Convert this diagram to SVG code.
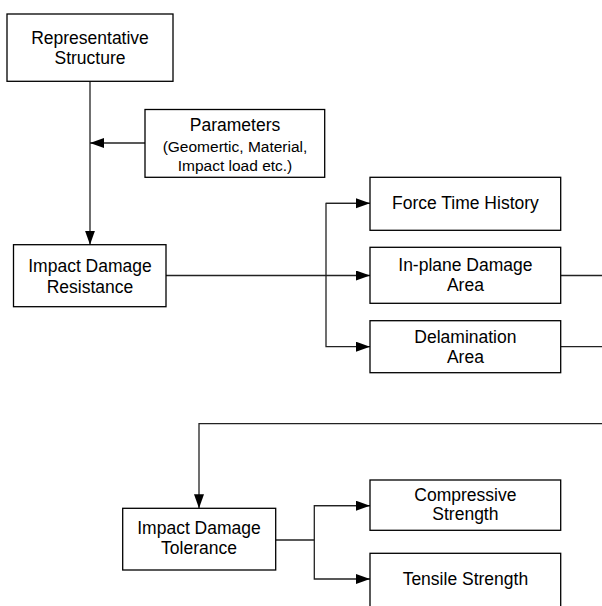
<svg xmlns="http://www.w3.org/2000/svg" width="602" height="606" viewBox="0 0 602 606">
<defs>
<style>
.box{fill:#fff;stroke:#000;stroke-width:1.3}
.t{font-family:"Liberation Sans",Arial,sans-serif;font-size:17.5px;fill:#000;text-anchor:middle}
.s{font-size:15.5px}
.c{fill:none;stroke:#222;stroke-width:1.3}
</style>
<marker id="ah" markerUnits="userSpaceOnUse" markerWidth="15" markerHeight="11" refX="14" refY="5" orient="auto">
<path d="M0,0 L14,5 L0,10 z" fill="#000"/>
</marker>
</defs>
<rect width="602" height="606" fill="#fff"/>
<g id="connectors">
<path class="c" d="M90,81.3 V244.7" marker-end="url(#ah)"/>
<path class="c" d="M145,143 H90" marker-end="url(#ah)"/>
<path class="c" d="M166,275.5 H370" marker-end="url(#ah)"/>
<path class="c" d="M370,203.3 H326 V346.7 H370" marker-end="url(#ah)"/>
<path class="c" d="M326,203.3 H370" marker-end="url(#ah)"/>
<path class="c" d="M560.7,275.5 H602"/>
<path class="c" d="M560.7,346.7 H602"/>
<path class="c" d="M602,423.7 H199 V508.3" marker-end="url(#ah)"/>
<path class="c" d="M275.7,540 H314.3"/>
<path class="c" d="M370,505.7 H314.3 V579 H370" marker-end="url(#ah)"/>
<path class="c" d="M314.3,505.7 H370" marker-end="url(#ah)"/>
</g>
<g id="rep">
<rect class="box" x="7" y="14" width="166" height="67.3"/>
<text class="t" x="90" y="44">Representative</text>
<text class="t" x="90" y="64">Structure</text>
</g>
<g id="params">
<rect class="box" x="145" y="109.5" width="179.7" height="67.8"/>
<text class="t" x="235" y="131">Parameters</text>
<text class="t s" x="235" y="152">(Geomertic, Material,</text>
<text class="t s" x="235" y="170.5">Impact load etc.)</text>
</g>
<g id="resistance">
<rect class="box" x="13.5" y="244.7" width="152.5" height="62"/>
<text class="t" x="90" y="272">Impact Damage</text>
<text class="t" x="90" y="292.7">Resistance</text>
</g>
<g id="force">
<rect class="box" x="370" y="177.3" width="190.7" height="53"/>
<text class="t" x="465.4" y="209.3">Force Time History</text>
</g>
<g id="inplane">
<rect class="box" x="370" y="247.3" width="190.7" height="56"/>
<text class="t" x="465.4" y="271">In-plane Damage</text>
<text class="t" x="465.4" y="291">Area</text>
</g>
<g id="delam">
<rect class="box" x="370" y="320.7" width="190.7" height="52"/>
<text class="t" x="465.4" y="342.7">Delamination</text>
<text class="t" x="465.4" y="362.7">Area</text>
</g>
<g id="tolerance">
<rect class="box" x="122.7" y="508.3" width="153" height="61.7"/>
<text class="t" x="199" y="534.3">Impact Damage</text>
<text class="t" x="199" y="554.3">Tolerance</text>
</g>
<g id="compressive">
<rect class="box" x="370" y="480" width="190.7" height="50.3"/>
<text class="t" x="465.4" y="501">Compressive</text>
<text class="t" x="465.4" y="520.3">Strength</text>
</g>
<g id="tensile">
<rect class="box" x="370" y="553.3" width="190.7" height="60"/>
<text class="t" x="465.4" y="585">Tensile Strength</text>
</g>
</svg>
